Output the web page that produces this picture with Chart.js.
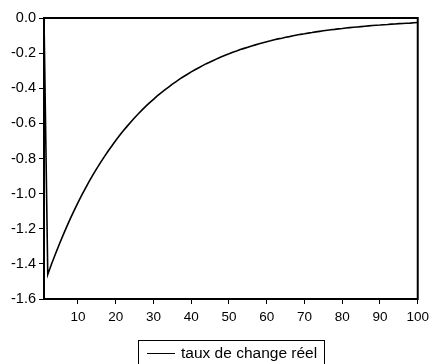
<!DOCTYPE html>
<html>
<head>
<meta charset="utf-8">
<script src="https://cdn.jsdelivr.net/npm/chart.js@4"></script>
<style>
  body { margin: 0; background: #fff; }
  #wrap { position: relative; width: 434px; height: 364px; }
  #legend {
    position: absolute; left: 138px; top: 340px; width: 187px; height: 26px;
    border: 1px solid #000; box-sizing: border-box;
    font-family: "Liberation Sans", Arial, sans-serif; font-size: 15.5px; color: #000;
    display: flex; align-items: center; white-space: nowrap;
  }
  #legend .swatch { display: inline-block; width: 28px; border-top: 1.5px solid #000; margin: 0 6px 0 8px; }
</style>
</head>
<body>
<div id="wrap">
  <canvas id="chart"></canvas>
  <div id="legend"><span class="swatch"></span><span id="legendText"></span></div>
</div>
<script>
// series name and values (periods 1..100)
const seriesName = "taux de change réel";
const values = [
  0.000, -1.460, -1.401, -1.345, -1.291, -1.239, -1.189, -1.141, -1.095, -1.051,
  -1.009, -0.968, -0.929, -0.892, -0.856, -0.822, -0.789, -0.757, -0.727, -0.697,
  -0.669, -0.642, -0.617, -0.592, -0.568, -0.545, -0.523, -0.502, -0.482, -0.463,
  -0.444, -0.426, -0.409, -0.393, -0.377, -0.362, -0.347, -0.333, -0.320, -0.307,
  -0.295, -0.283, -0.271, -0.260, -0.250, -0.240, -0.230, -0.221, -0.212, -0.204,
  -0.195, -0.188, -0.180, -0.173, -0.166, -0.159, -0.153, -0.147, -0.141, -0.135,
  -0.130, -0.124, -0.119, -0.115, -0.110, -0.106, -0.101, -0.097, -0.093, -0.090,
  -0.086, -0.083, -0.079, -0.076, -0.073, -0.070, -0.067, -0.065, -0.062, -0.060,
  -0.057, -0.055, -0.053, -0.051, -0.049, -0.047, -0.045, -0.043, -0.041, -0.040,
  -0.038, -0.037, -0.035, -0.034, -0.032, -0.031, -0.030, -0.029, -0.027, -0.026
];
const periods = values.map((v, i) => i + 1);
const xTicks = [10, 20, 30, 40, 50, 60, 70, 80, 90, 100];
const yTicks = [0.0, -0.2, -0.4, -0.6, -0.8, -1.0, -1.2, -1.4, -1.6];

Chart.defaults.font.family = '"Liberation Sans", Arial, sans-serif';
Chart.defaults.font.size = 13.5;
Chart.defaults.color = "#000";

// frame around the plot area
const framePlugin = {
  id: "frame",
  afterDraw(chart) {
    const a = chart.chartArea;
    const ctx = chart.ctx;
    ctx.save();
    ctx.strokeStyle = "#000";
    ctx.lineWidth = 2;
    ctx.strokeRect(a.left, a.top, a.right - a.left, a.bottom - a.top);
    ctx.restore();
  }
};

document.getElementById("legendText").textContent = seriesName;

const ctx = document.getElementById("chart").getContext("2d");
new Chart(ctx, {
  type: "line",
  data: {
    datasets: [{
      label: seriesName,
      data: periods.map((p, i) => ({ x: p, y: values[i] })),
      borderColor: "#000",
      borderWidth: 1.6,
      pointRadius: 0,
      tension: 0,
      fill: false
    }]
  },
  options: {
    responsive: true,
    maintainAspectRatio: false,
    animation: false,
    layout: { padding: { top: 18, right: 14, left: 0, bottom: 0 } },
    plugins: { legend: { display: false }, tooltip: { enabled: false } },
    scales: {
      x: {
        type: "linear",
        min: 1,
        max: 100,
        afterBuildTicks: axis => { axis.ticks = xTicks.map(v => ({ value: v })); },
        afterFit: axis => { axis.height = 65; },
        grid: { drawOnChartArea: false, drawTicks: true, tickLength: 5, color: "#000", lineWidth: 1 },
        border: { color: "#000", width: 2 },
        ticks: { padding: 5, maxRotation: 0, autoSkip: false }
      },
      y: {
        min: -1.6,
        max: 0,
        afterBuildTicks: axis => { axis.ticks = yTicks.map(v => ({ value: v })); },
        afterFit: axis => { axis.width = 44; },
        grid: { drawOnChartArea: false, drawTicks: true, tickLength: 5, color: "#000", lineWidth: 1 },
        border: { color: "#000", width: 2 },
        ticks: { padding: 3, font: { size: 14.5 }, callback: v => v.toFixed(1) }
      }
    }
  },
  plugins: [framePlugin]
});
</script>
</body>
</html>
